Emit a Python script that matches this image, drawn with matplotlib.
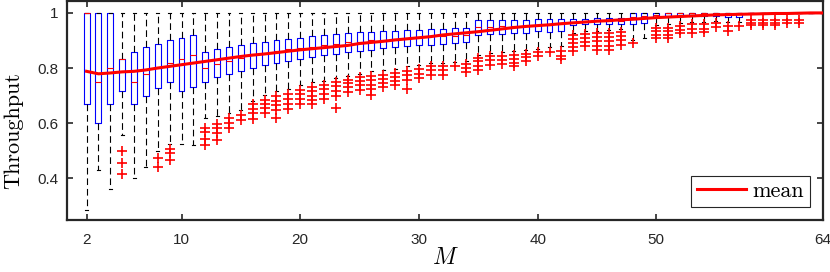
import matplotlib
matplotlib.use("Agg")
import matplotlib.pyplot as plt

plt.rcParams['mathtext.fontset'] = 'cm'
plt.rcParams['axes.unicode_minus'] = False

# M = 2 .. 64
M = list(range(2, 65))

q3 = [1.0, 1.0, 1.0, 0.834, 0.858, 0.875, 0.888, 0.900, 0.908, 0.919,
      0.858, 0.868, 0.875, 0.882, 0.890, 0.896, 0.902, 0.907, 0.909, 0.915,
      0.920, 0.922, 0.927, 0.929, 0.931, 0.933, 0.936, 0.937, 0.939, 0.942,
      0.943, 0.944, 0.946, 0.973, 0.973, 0.976, 0.976, 0.976, 0.977, 0.977,
      0.978, 0.979, 0.979, 0.980, 0.980, 0.982, 1.0, 1.0, 1.0, 1.0,
      1.0, 1.0, 1.0, 1.0, 1.0, 1.0, 1.0, 1.0, 1.0, 1.0,
      1.0, 1.0, 1.0]

q1 = [0.669, 0.600, 0.669, 0.716, 0.669, 0.698, 0.729, 0.750, 0.717, 0.731,
      0.751, 0.767, 0.777, 0.790, 0.800, 0.811, 0.818, 0.827, 0.833, 0.840,
      0.847, 0.852, 0.859, 0.862, 0.867, 0.871, 0.875, 0.879, 0.882, 0.885,
      0.887, 0.891, 0.893, 0.921, 0.925, 0.925, 0.927, 0.927, 0.933, 0.930,
      0.936, 0.955, 0.958, 0.960, 0.961, 0.961, 0.961, 0.964, 0.985, 0.988,
      0.988, 0.988, 0.988, 0.988, 0.985, 0.985, 1.0, 1.0, 1.0, 1.0,
      1.0, 1.0, 1.0]

med = [1.0, 0.750, 0.800, 0.834, 0.750, 0.777, 0.800, 0.818, 0.834, 0.848,
       0.801, 0.815, 0.825, 0.837, 0.848, 0.855, 0.862, 0.868, 0.872, 0.878,
       0.884, 0.888, 0.893, 0.896, 0.900, 0.903, 0.906, 0.909, 0.912, 0.915,
       0.916, 0.918, 0.920, 0.948, 0.950, 0.952, 0.953, 0.954, 0.956, 0.955,
       0.958, 0.967, 0.969, 0.970, 0.971, 0.972, 0.985, 0.988, 0.993, 1.0,
       1.0, 1.0, 1.0, 1.0, 1.0, 1.0, 1.0, 1.0, 1.0, 1.0,
       1.0, 1.0, 1.0]

whislo = [0.285, 0.428, 0.362, 0.556, 0.400, 0.439, 0.497, 0.525, 0.525, 0.521,
          0.617, 0.624, 0.636, 0.648, 0.679, 0.703, 0.715, 0.724, 0.739, 0.748,
          0.752, 0.764, 0.772, 0.779, 0.788, 0.792, 0.797, 0.806, 0.812, 0.818,
          0.818, 0.821, 0.824, 0.848, 0.855, 0.858, 0.861, 0.864, 0.870, 0.876,
          0.879, 0.927, 0.933, 0.936, 0.939, 0.942, 0.903, 0.909, 0.955, 0.958,
          0.963, 0.966, 0.966, 0.972, 0.967, 0.967, 1.0, 1.0, 1.0, 1.0,
          1.0, 1.0, 1.0]

outliers = [
    [], [], [], [0.499, 0.455, 0.417], [], [], [0.475, 0.442],
    [0.507, 0.491, 0.467], [], [],
    [0.582, 0.567, 0.544, 0.521], [0.597, 0.582, 0.564, 0.540],
    [0.617, 0.600, 0.582], [0.628, 0.612], [0.669, 0.652, 0.636, 0.616],
    [0.685, 0.670, 0.655, 0.636], [0.697, 0.679, 0.664, 0.646, 0.618],
    [0.705, 0.688, 0.670, 0.652], [0.721, 0.704, 0.688, 0.670],
    [0.731, 0.715, 0.700, 0.685, 0.670], [0.739, 0.724, 0.705, 0.688],
    [0.748, 0.733, 0.715, 0.700, 0.655], [0.758, 0.746, 0.731, 0.714],
    [0.767, 0.752, 0.737, 0.720], [0.770, 0.755, 0.740, 0.724, 0.703],
    [0.776, 0.760, 0.746, 0.731], [0.782, 0.767, 0.752, 0.737],
    [0.788, 0.773, 0.758, 0.724], [0.796, 0.779, 0.764],
    [0.806, 0.792, 0.776], [0.806, 0.791, 0.776], [0.806],
    [0.815, 0.800, 0.784], [0.838, 0.824, 0.808, 0.791],
    [0.842, 0.828, 0.812], [0.845, 0.830, 0.815],
    [0.848, 0.833, 0.818, 0.806], [0.852, 0.839, 0.824],
    [0.857, 0.842], [0.858], [0.861, 0.845, 0.833],
    [0.921, 0.905, 0.891, 0.876, 0.861], [0.925, 0.909, 0.893, 0.879],
    [0.927, 0.912, 0.897, 0.881, 0.867], [0.927, 0.912, 0.897, 0.881, 0.867],
    [0.930, 0.915, 0.900, 0.885], [0.891], [],
    [0.946, 0.933, 0.921, 0.909], [0.945, 0.933, 0.921, 0.909],
    [0.954, 0.939, 0.927], [0.958, 0.943, 0.927], [0.958, 0.943, 0.930],
    [0.964, 0.949], [0.952, 0.933], [0.952],
    [0.975, 0.965, 0.955], [0.975, 0.965, 0.955], [0.975, 0.965, 0.955],
    [0.975, 0.965], [0.975, 0.965], [], [],
]

mean = [0.788, 0.779, 0.782, 0.786, 0.788, 0.793, 0.800, 0.806, 0.812, 0.818,
        0.824, 0.830, 0.836, 0.842, 0.847, 0.851, 0.856, 0.861, 0.866, 0.870,
        0.874, 0.878, 0.882, 0.889, 0.893, 0.897, 0.902, 0.906, 0.910, 0.914,
        0.920, 0.924, 0.928, 0.932, 0.937, 0.942, 0.947, 0.951, 0.954, 0.957,
        0.961, 0.964, 0.967, 0.970, 0.972, 0.975, 0.977, 0.980, 0.983, 0.985,
        0.987, 0.989, 0.991, 0.993, 0.994, 0.995, 0.996, 0.997, 0.998, 0.998,
        0.999, 1.0, 1.0]

xticks = [2, 10, 20, 30, 40, 50, 64]
yticks = [0.4, 0.6, 0.8, 1.0]
yticklabels = ['0.4', '0.6', '0.8', '1']

# build the stats dicts for bxp
stats = []
for i in range(len(M)):
    stats.append({'q1': q1[i], 'q3': q3[i], 'med': med[i],
                  'whislo': whislo[i], 'whishi': 1.0,
                  'fliers': outliers[i]})

axcol = '#262626'
fig = plt.figure(figsize=(8.3, 2.72), dpi=100)
ax = fig.add_axes([0.0807, 0.191, 0.911, 0.805])

ax.bxp(stats, positions=M, widths=0.5, capwidths=0.25, showfliers=True,
       boxprops=dict(color='blue', linewidth=0.8),
       medianprops=dict(color='red', linewidth=0.8),
       whiskerprops=dict(color='black', linewidth=0.8, linestyle=(0, (6, 3.5))),
       capprops=dict(color='black', linewidth=0.8),
       flierprops=dict(marker='+', markeredgecolor='red', markersize=6.5,
                       markeredgewidth=1.2, linestyle='none'),
       manage_ticks=False)

ax.plot(M, mean, color='red', linewidth=2.2, label='mean', zorder=5)

ax.set_xlim(0.35, 64.05)
ax.set_ylim(0.248, 1.043)
ax.set_xticks(xticks)
ax.set_xticklabels([str(t) for t in xticks], family='Liberation Sans')
ax.set_yticks(yticks)
ax.set_yticklabels(yticklabels, family='Liberation Sans')
ax.tick_params(direction='in', top=True, right=True, length=4, width=1.2,
               labelsize=11, colors=axcol)
ax.tick_params(axis='x', pad=9)
ax.tick_params(axis='y', pad=6)

for sp in ax.spines.values():
    sp.set_linewidth(1.6)
    sp.set_color(axcol)

ax.set_xlabel('$M$', fontsize=17, labelpad=-1)
ax.set_ylabel('Throughput', family='cmr10', fontsize=16)
ax.yaxis.set_label_coords(-0.058, 0.41)

leg = ax.legend(loc='lower right', prop={'family': 'cmr10', 'size': 16},
                fancybox=False, edgecolor=axcol, framealpha=1,
                handlelength=2.2, handletextpad=0.3, borderpad=0.25,
                borderaxespad=0.6)
leg.get_frame().set_linewidth(0.8)

fig.savefig('out.png', dpi=100)
